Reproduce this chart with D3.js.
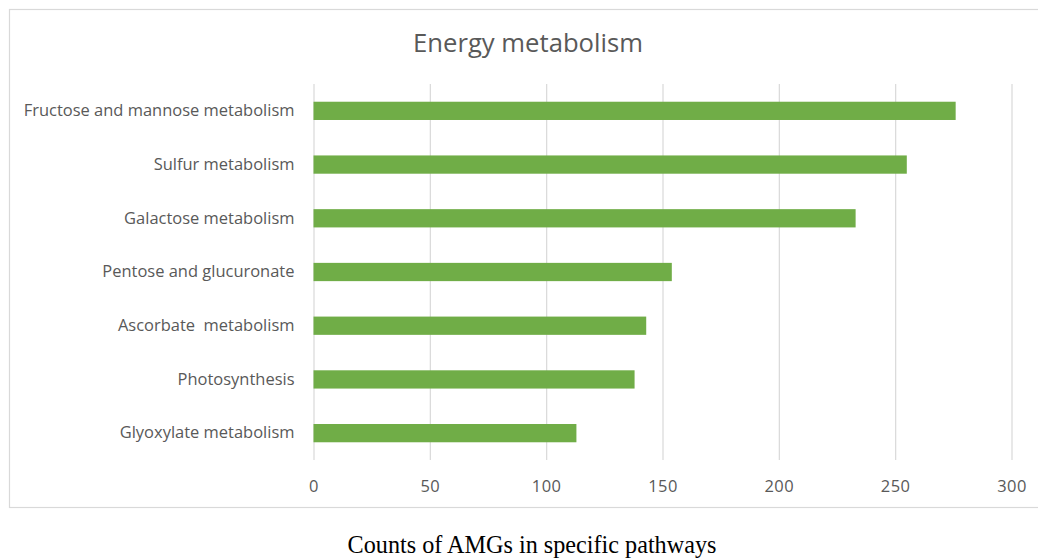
<!DOCTYPE html>
<html>
<head>
<meta charset="utf-8">
<script src="https://cdn.jsdelivr.net/npm/d3@7"></script>
<style>
  html, body { margin: 0; padding: 0; background: #fff; }
  svg { display: block; }
  svg text { white-space: pre; }
</style>
</head>
<body>
<svg id="chart" width="1038" height="559"></svg>
<script>
// Pathway categories, listed top to bottom
const categories = [
  "Fructose and mannose metabolism",
  "Sulfur metabolism",
  "Galactose metabolism",
  "Pentose and glucuronate",
  "Ascorbate  metabolism",
  "Photosynthesis",
  "Glyoxylate metabolism"
];
// AMG counts per pathway
const counts = [276, 255, 233, 154, 143, 138, 113];
// Axis ticks
const xTicks = [0, 50, 100, 150, 200, 250, 300];

const chartTitle = "Energy metabolism";
const caption = "Counts of AMGs in specific pathways";

const svg = d3.select("#chart");
const labelFont = "'Open Sans', 'Noto Sans', sans-serif";
const textColor = "#595959";

// Chart area frame (right edge runs past the canvas)
svg.append("rect")
  .attr("x", 9.5).attr("y", 9.5)
  .attr("width", 1040).attr("height", 498)
  .attr("fill", "#fff")
  .attr("stroke", "#d9d9d9")
  .attr("stroke-width", 1.2);

const plot = { left: 313.5, right: 1011.5, top: 84, bottom: 460 };

const x = d3.scaleLinear().domain([0, 300]).range([plot.left, plot.right]);
const y = d3.scaleBand().domain(categories).range([plot.top, plot.bottom])
  .paddingInner(0.66).paddingOuter(0.33);

// Vertical gridlines
const grid = svg.append("g")
  .attr("transform", `translate(0,${plot.bottom})`)
  .call(d3.axisBottom(x).tickValues(xTicks).tickSize(-(plot.bottom - plot.top)).tickFormat(""));
grid.select(".domain").remove();
grid.selectAll(".tick line").attr("stroke", "#d9d9d9").attr("stroke-width", 1.2);

// Bars
svg.append("g").selectAll("rect")
  .data(counts)
  .join("rect")
  .attr("x", x(0))
  .attr("y", (d, i) => y(categories[i]))
  .attr("width", d => x(d) - x(0))
  .attr("height", y.bandwidth())
  .attr("fill", "#70ad47");

// Fit a text element's font size so it spans a target width
function fitWidth(sel, target) {
  const node = sel.node();
  const base = parseFloat(sel.attr("font-size"));
  const w = node.getComputedTextLength();
  const size = base * target / w;
  sel.attr("font-size", size);
  return size;
}

// Category labels
const yAxis = svg.append("g")
  .attr("transform", `translate(${plot.left},0)`)
  .call(d3.axisLeft(y).tickSize(0).tickPadding(19));
yAxis.select(".domain").remove();
yAxis.selectAll("text")
  .attr("font-family", labelFont)
  .attr("font-size", 14)
  .attr("fill", textColor)
  .attr("dy", "0.32em");
const first = yAxis.selectAll("text").filter(d => d === categories[0]);
const labelSize = fitWidth(first, 271);
yAxis.selectAll("text").attr("font-size", labelSize);

// Value axis labels
const xAxis = svg.append("g")
  .attr("transform", `translate(0,${plot.bottom})`)
  .call(d3.axisBottom(x).tickValues(xTicks).tickSize(0).tickPadding(20));
xAxis.select(".domain").remove();
xAxis.selectAll("text")
  .attr("font-family", labelFont)
  .attr("font-size", labelSize)
  .attr("fill", textColor)
  .attr("letter-spacing", "0.5px")
  .attr("dy", "0.71em");

// Title
const title = svg.append("text")
  .attr("x", 528).attr("y", 51.5)
  .attr("text-anchor", "middle")
  .attr("font-family", labelFont)
  .attr("font-size", 22)
  .attr("fill", textColor)
  .text(chartTitle);
fitWidth(title, 230);

// Caption below the chart
const cap = svg.append("text")
  .attr("x", 532).attr("y", 553)
  .attr("text-anchor", "middle")
  .attr("font-family", "'Liberation Serif', 'Times New Roman', serif")
  .attr("font-size", 18)
  .attr("fill", "#000")
  .text(caption);
fitWidth(cap, 369);
</script>
</body>
</html>
